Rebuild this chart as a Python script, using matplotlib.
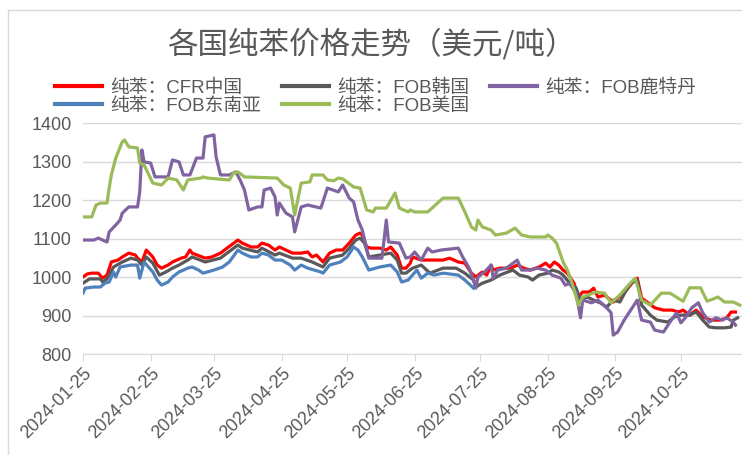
import numpy as np
import matplotlib
matplotlib.use('Agg')
import matplotlib.pyplot as plt
import matplotlib.dates as mdates
from matplotlib.patches import Rectangle
from matplotlib.lines import Line2D

# (days after 2024-01-25, USD/t)
start_date = np.datetime64('2024-01-25')

cfr_china = [(0, 1000), (2, 1008), (4, 1010), (7, 1010), (9, 997), (11, 1005), (13, 1039), (16, 1044),
             (18, 1052), (21, 1062), (24, 1057), (25, 1049), (27, 1039), (29, 1070), (32, 1052), (34, 1031),
             (36, 1023), (39, 1031), (41, 1039), (45, 1049), (47, 1052), (49, 1070), (50, 1062), (56, 1049),
             (59, 1052), (63, 1062), (66, 1075), (71, 1096), (73, 1088), (77, 1078), (80, 1078), (82, 1088),
             (85, 1083), (88, 1070), (90, 1078), (93, 1070), (96, 1062), (100, 1062), (103, 1065), (105, 1052),
             (107, 1057), (110, 1039), (113, 1062), (116, 1070), (119, 1070), (122, 1088), (125, 1109),
             (127, 1114), (128, 1109), (130, 1078), (132, 1075), (136, 1075), (139, 1070), (141, 1078),
             (144, 1057), (146, 1023), (148, 1023), (150, 1036), (151, 1052), (155, 1044), (165, 1044),
             (168, 1049), (172, 1039), (175, 1036), (178, 1010), (180, 1000), (183, 1013), (185, 1005),
             (187, 1031), (188, 1018), (191, 1023), (196, 1023), (199, 1031), (202, 1023), (205, 1018),
             (209, 1026), (212, 1036), (214, 1026), (216, 1039), (218, 1031), (220, 1018), (222, 1010),
             (225, 984), (227, 948), (229, 961), (232, 961), (234, 971), (236, 948), (239, 953), (243, 935),
             (245, 945), (249, 966), (252, 987), (254, 997), (256, 945), (259, 933), (262, 920), (266, 914),
             (270, 914), (273, 909), (275, 914), (278, 901), (281, 914), (284, 896), (288, 888), (292, 888),
             (295, 894), (297, 909), (299, 909)]

fob_korea = [(0, 984), (3, 995), (8, 995), (9, 987), (11, 995), (14, 1026), (18, 1039), (22, 1049),
             (25, 1044), (27, 1031), (29, 1052), (32, 1036), (35, 1005), (38, 1013), (41, 1023), (44, 1031),
             (48, 1044), (50, 1052), (56, 1039), (63, 1049), (66, 1062), (71, 1083), (73, 1075), (80, 1065),
             (82, 1075), (88, 1057), (90, 1062), (96, 1049), (100, 1049), (105, 1039), (110, 1026), (113, 1049),
             (119, 1057), (122, 1075), (125, 1096), (127, 1101), (129, 1088), (131, 1052), (136, 1057),
             (141, 1062), (144, 1044), (146, 1010), (148, 1010), (151, 1023), (155, 1031), (159, 1010),
             (165, 1023), (171, 1023), (175, 1010), (179, 992), (180, 974), (183, 984), (187, 992), (191, 1005),
             (197, 1018), (200, 1005), (204, 1000), (206, 992), (209, 1005), (213, 1010), (215, 1018),
             (218, 1013), (220, 1005), (223, 984), (226, 971), (228, 940), (231, 948), (234, 940), (237, 933),
             (240, 922), (243, 940), (246, 935), (249, 966), (251, 984), (254, 992), (256, 927), (260, 901),
             (263, 888), (268, 883), (271, 896), (274, 901), (278, 901), (281, 909), (284, 888), (287, 870),
             (290, 868), (294, 868), (297, 870), (298, 888), (300, 894)]

fob_rotterdam = [(0, 1096), (5, 1096), (7, 1101), (11, 1091), (12, 1117), (15, 1135), (17, 1148), (18, 1166),
                 (21, 1182), (25, 1182), (26, 1221), (27, 1330), (28, 1299), (31, 1296), (33, 1260), (39, 1260),
                 (41, 1304), (44, 1299), (46, 1265), (49, 1265), (52, 1309), (55, 1309), (56, 1364), (60, 1369),
                 (61, 1312), (63, 1265), (67, 1265), (70, 1273), (72, 1252), (74, 1226), (76, 1174), (80, 1182),
                 (82, 1182), (83, 1226), (86, 1231), (88, 1208), (89, 1161), (90, 1192), (93, 1166), (96, 1156),
                 (97, 1117), (100, 1182), (103, 1187), (109, 1179), (112, 1231), (117, 1221), (119, 1239),
                 (122, 1205), (124, 1195), (126, 1148), (128, 1122), (131, 1049), (137, 1049), (139, 1148),
                 (140, 1091), (145, 1088), (148, 1049), (150, 1052), (152, 1065), (155, 1044), (158, 1075),
                 (160, 1065), (164, 1070), (172, 1075), (174, 1052), (177, 1023), (179, 992), (180, 971),
                 (181, 1000), (184, 1013), (187, 1031), (188, 997), (190, 1018), (194, 1023), (199, 1044),
                 (201, 1018), (205, 1018), (208, 1023), (212, 1018), (215, 1005), (219, 997), (221, 979),
                 (223, 983), (226, 958), (228, 894), (229, 940), (233, 933), (236, 940), (240, 920), (242, 907),
                 (243, 849), (245, 857), (248, 888), (251, 914), (254, 940), (256, 888), (260, 883), (262, 862),
                 (266, 857), (269, 883), (272, 907), (274, 881), (276, 894), (279, 920), (282, 933), (284, 907),
                 (287, 883), (290, 894), (293, 888), (295, 894), (298, 883), (299, 875)]

fob_sea = [(0, 958), (1, 971), (5, 974), (8, 974), (10, 984), (12, 987), (14, 1013), (15, 1000), (17, 1026),
           (22, 1031), (25, 1031), (26, 997), (28, 1039), (32, 1013), (34, 992), (36, 979), (39, 987),
           (41, 1000), (44, 1013), (48, 1023), (50, 1026), (53, 1018), (55, 1010), (60, 1018), (64, 1026),
           (67, 1039), (71, 1070), (73, 1062), (77, 1052), (80, 1052), (82, 1062), (85, 1057), (88, 1044),
           (91, 1044), (95, 1031), (97, 1018), (100, 1031), (103, 1023), (109, 1013), (110, 1010), (113, 1031),
           (118, 1039), (121, 1052), (124, 1078), (126, 1070), (128, 1052), (131, 1018), (136, 1026),
           (141, 1031), (144, 1013), (146, 987), (149, 992), (151, 1005), (153, 1018), (155, 997), (158, 1010),
           (161, 1005), (165, 1010), (172, 1005), (175, 992), (179, 971)]

fob_usa = [(0, 1156), (4, 1156), (6, 1187), (8, 1192), (11, 1192), (12, 1231), (13, 1265), (15, 1309),
           (18, 1351), (19, 1356), (21, 1338), (25, 1335), (26, 1296), (28, 1291), (32, 1244), (36, 1239),
           (39, 1257), (43, 1252), (46, 1226), (48, 1252), (54, 1257), (55, 1260), (57, 1257), (67, 1252),
           (69, 1270), (71, 1273), (74, 1260), (89, 1257), (92, 1239), (95, 1231), (97, 1161), (100, 1244),
           (104, 1247), (105, 1265), (110, 1265), (112, 1252), (115, 1250), (117, 1257), (119, 1255),
           (124, 1234), (127, 1231), (130, 1174), (133, 1169), (134, 1179), (139, 1179), (143, 1218),
           (145, 1179), (149, 1169), (150, 1174), (152, 1169), (158, 1169), (165, 1205), (172, 1205),
           (175, 1169), (178, 1130), (180, 1122), (181, 1148), (183, 1130), (187, 1122), (189, 1109),
           (194, 1114), (198, 1127), (201, 1109), (205, 1104), (212, 1104), (213, 1109), (215, 1101),
           (217, 1088), (220, 1039), (222, 1018), (224, 987), (227, 927), (229, 948), (235, 961), (239, 958),
           (242, 933), (246, 953), (250, 979), (253, 997), (256, 940), (260, 927), (265, 958), (269, 958),
           (275, 937), (278, 972), (283, 972), (286, 937), (291, 948), (294, 935), (298, 935), (301, 927)]

series_names = ['纯苯：CFR中国', '纯苯：FOB韩国', '纯苯：FOB鹿特丹', '纯苯：FOB东南亚', '纯苯：FOB美国']
series_data = [cfr_china, fob_korea, fob_rotterdam, fob_sea, fob_usa]
series_colors = ['#FF0000', '#595959', '#8064A2', '#4F81BD', '#9BBB59']

title = '各国纯苯价格走势（美元/吨）'

plt.rcParams['font.family'] = ['Liberation Sans', 'Noto Sans CJK SC', 'DejaVu Sans']
text_color = '#595959'
grid_color = '#d9d9d9'

fig = plt.figure(figsize=(7.42, 4.55), dpi=100)
ax = fig.add_axes([83 / 742, 1 - 354 / 455, 659 / 742, 231 / 455])

for name, data, color in zip(series_names, series_data, series_colors):
    days = np.array([d for d, v in data])
    vals = np.array([v for d, v in data])
    dates = start_date + days.astype('timedelta64[D]')
    ax.plot(dates, vals, color=color, lw=2.3, solid_joinstyle='round')

ax.set_ylim(800, 1400)
ax.set_yticks(np.arange(800, 1401, 100))
ax.set_xlim(start_date, start_date + np.timedelta64(302, 'D'))
ax.xaxis.set_major_locator(mdates.MonthLocator(bymonthday=25))
ax.xaxis.set_major_formatter(mdates.DateFormatter('%Y-%m-%d'))

ax.grid(axis='y', color=grid_color, lw=1)
ax.set_axisbelow(True)
for s in ['top', 'right', 'left']:
    ax.spines[s].set_visible(False)
ax.spines['bottom'].set_color(grid_color)
ax.tick_params(axis='y', length=0, labelsize=13, labelcolor=text_color, pad=8)
ax.tick_params(axis='x', length=5, color=grid_color, labelsize=13, labelcolor=text_color, pad=3)
for lab in ax.get_xticklabels():
    lab.set_rotation(45)
    lab.set_ha('right')
    lab.set_va('top')
    lab.set_rotation_mode('anchor')

fig.text(0.5, 1 - 45 / 455, title, ha='center', va='center', fontsize=22, color=text_color,
         family=['Noto Sans CJK SC'])

order = [0, 3, 1, 4, 2]
handles = [Line2D([], [], color=series_colors[i], lw=3) for i in order]
labels = [series_names[i] for i in order]
leg = fig.legend(handles, labels, loc='center left', bbox_to_anchor=(55 / 742, 1 - 97 / 455), ncol=3,
                 frameon=False, fontsize=13.5, handlelength=2.5, handletextpad=0.45, columnspacing=1.1,
                 labelspacing=0.05, borderpad=0, borderaxespad=0)
for t in leg.get_texts():
    t.set_color(text_color)

fig.patches.append(Rectangle((8 / 742, -0.1), 1.2, 1.1 - 10 / 455, transform=fig.transFigure,
                             fill=False, edgecolor=grid_color, lw=1))

fig.savefig('out.png', dpi=100)
